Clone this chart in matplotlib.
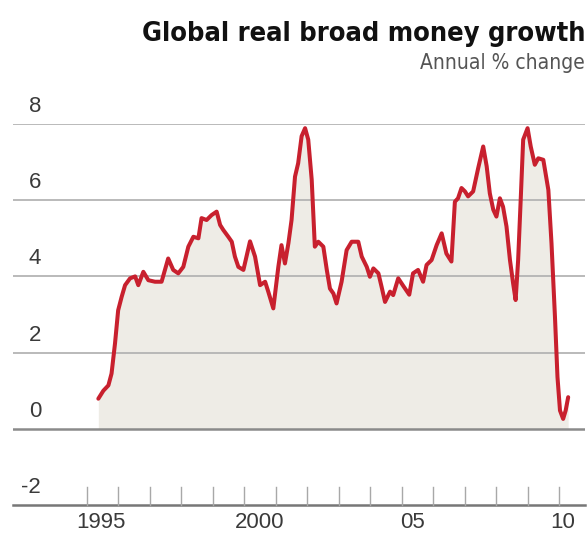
import matplotlib
matplotlib.use("Agg")
import matplotlib.pyplot as plt
from matplotlib.transforms import blended_transform_factory, IdentityTransform

# ---- data ----
years = [1995.36, 1995.52, 1995.68, 1995.78, 1995.89, 1995.99, 1996.10, 1996.21,
         1996.37, 1996.53, 1996.63, 1996.79, 1996.95, 1997.16, 1997.37, 1997.58,
         1997.74, 1997.90, 1998.06, 1998.22, 1998.38, 1998.54, 1998.64, 1998.80,
         1998.96, 1999.12, 1999.23, 1999.33, 1999.49, 1999.60, 1999.70, 1999.81,
         1999.97, 2000.18, 2000.34, 2000.50, 2000.66, 2000.76, 2000.92, 2001.08,
         2001.18, 2001.29, 2001.40, 2001.50, 2001.61, 2001.71, 2001.82, 2001.93,
         2002.03, 2002.14, 2002.24, 2002.35, 2002.51, 2002.62, 2002.72, 2002.83,
         2002.93, 2003.09, 2003.25, 2003.41, 2003.62, 2003.73, 2003.89, 2003.99,
         2004.10, 2004.26, 2004.36, 2004.47, 2004.63, 2004.73, 2004.89, 2005.05,
         2005.24, 2005.36, 2005.52, 2005.68, 2005.79, 2005.95, 2006.11, 2006.27,
         2006.42, 2006.58, 2006.69, 2006.79, 2006.90, 2007.01, 2007.11, 2007.27,
         2007.43, 2007.59, 2007.70, 2007.80, 2007.91, 2008.01, 2008.12, 2008.22,
         2008.33, 2008.44, 2008.54, 2008.62, 2008.70, 2008.79, 2008.86, 2009.00,
         2009.10, 2009.23, 2009.34, 2009.50, 2009.66, 2009.76, 2009.87, 2009.95,
         2010.03, 2010.13, 2010.21, 2010.29]
growth = [0.79, 1.00, 1.14, 1.45, 2.24, 3.11, 3.46, 3.77,
          3.95, 4.00, 3.77, 4.12, 3.90, 3.86, 3.86, 4.47,
          4.17, 4.08, 4.25, 4.78, 5.04, 5.00, 5.53, 5.48,
          5.61, 5.70, 5.35, 5.22, 5.04, 4.91, 4.52, 4.25,
          4.17, 4.92, 4.52, 3.77, 3.86, 3.60, 3.16, 4.25,
          4.82, 4.34, 4.87, 5.48, 6.62, 6.97, 7.68, 7.89,
          7.59, 6.54, 4.78, 4.91, 4.78, 4.17, 3.68, 3.55,
          3.29, 3.86, 4.69, 4.91, 4.91, 4.52, 4.25, 3.99,
          4.21, 4.08, 3.73, 3.33, 3.60, 3.51, 3.95, 3.75,
          3.52, 4.08, 4.17, 3.86, 4.30, 4.43, 4.82, 5.13,
          4.60, 4.39, 5.96, 6.05, 6.32, 6.23, 6.10, 6.23,
          6.84, 7.41, 6.89, 6.18, 5.75, 5.57, 6.05, 5.83,
          5.31, 4.43, 3.82, 3.38, 4.43, 6.18, 7.59, 7.89,
          7.41, 6.93, 7.10, 7.06, 6.27, 4.87, 2.94, 1.36,
          0.48, 0.26, 0.48, 0.83]

y_ticks = [-2, 0, 2, 4, 6, 8]
y_tick_labels = ["-2", "0", "2", "4", "6", "8"]
year_ticks = list(range(1995, 2011))
x_label_pos = [1995.45, 2000.5, 2005.35, 2010.1]
x_labels = ["1995", "2000", "05", "10"]

title = "Global real broad money growth"
subtitle = "Annual % change"

# ---- styling ----
W, H = 588, 537
fig = plt.figure(figsize=(W / 100, H / 100), dpi=100)
fig.patch.set_facecolor("white")

x0_px, x1_px = 13, 585
y_bot_px, y_top_px = 505, 124
ax = fig.add_axes([x0_px / W, 1 - y_bot_px / H,
                   (x1_px - x0_px) / W, (y_bot_px - y_top_px) / H])
px_per_year = 31.47
ax.set_xlim(1995 - (87 - x0_px) / px_per_year, 1995 + (x1_px - 87) / px_per_year)
ax.set_ylim(-2, 8)
ax.axis("off")

red = "#c8202e"
fill = "#eeece6"

ax.fill_between(years, 0, growth, color=fill, lw=0, zorder=1)

for v in y_ticks:
    if v == -2:
        continue
    col = "#8a8a8a" if v == 0 else "#b4b4b4"
    lw = 1.8 if v == 0 else 1.3
    ax.axhline(v, color=col, lw=lw, zorder=2)

ax.plot(years, growth, color=red, lw=2.9, solid_joinstyle="round",
        solid_capstyle="round", zorder=3, clip_on=False)

# bottom axis line
ax.axhline(-2, color="#777777", lw=1.8, zorder=2, clip_on=False)

# x tick marks
tick_h = 18 / 38.1
for yr in year_ticks:
    ax.plot([yr, yr], [-2, -2 + tick_h], color="#a8a8a8", lw=1.0, zorder=2,
            clip_on=False)

font = ["Liberation Sans", "DejaVu Sans"]
tcol = "#3a3a3a"

# y tick labels (above gridlines, right aligned)
for v, lab in zip(y_ticks, y_tick_labels):
    ax.text(41, v + 7 / 38.1, lab,
            transform=blended_transform_factory(IdentityTransform(), ax.transData),
            ha="right", va="bottom", fontsize=16, color=tcol, family=font)

# x tick labels
trans_x = blended_transform_factory(ax.transData, fig.transFigure)
for xp, lab in zip(x_label_pos, x_labels):
    ax.text(xp, 1 - 512 / H, lab, transform=trans_x, ha="center", va="top",
            fontsize=16, color=tcol, family=font)

fig.text(585 / W, 1 - 41 / H, title, ha="right", va="baseline",
         fontsize=19.5, fontweight="bold", fontstretch="condensed",
         color="#111111", family=["DejaVu Sans"])
fig.text(585 / W, 1 - 69 / H, subtitle, ha="right", va="baseline",
         fontsize=15, fontstretch="condensed", color="#555555",
         family=["DejaVu Sans"])

fig.savefig("out.png", dpi=100, facecolor="white")
